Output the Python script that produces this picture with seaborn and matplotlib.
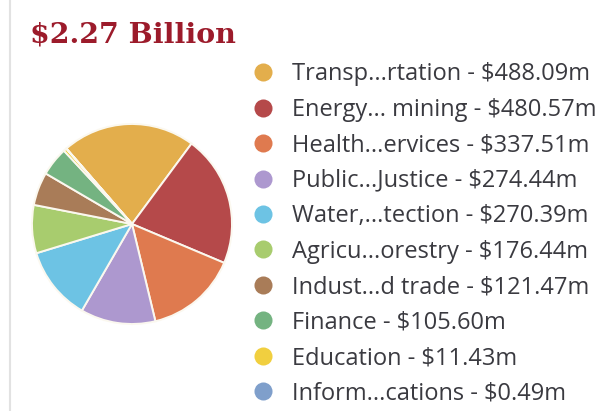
import matplotlib
matplotlib.use("Agg")
import matplotlib.pyplot as plt
from matplotlib.lines import Line2D
import seaborn as sns

# Spending by sector, millions of dollars
sectors = [
    "Transp...rtation", "Energy... mining", "Health...ervices", "Public...Justice",
    "Water,...tection", "Agricu...orestry", "Indust...d trade", "Finance",
    "Education", "Inform...cations",
]
amounts = [488.09, 480.57, 337.51, 274.44, 270.39, 176.44, 121.47, 105.60, 11.43, 0.49]
sector_colors = [
    "#E3AE4C", "#B5494A", "#DF7A4F", "#AD98CF", "#6DC3E4",
    "#A8CC6E", "#A97C58", "#74B381", "#F1CF3F", "#7F9FCB",
]
total_label = "$2.27 Billion"

sns.set_theme(style="white")
plt.rcParams["font.family"] = ["Open Sans", "DejaVu Sans"]
palette = sns.color_palette(sector_colors)

W, H = 611, 411
fig = plt.figure(figsize=(W / 100, H / 100), dpi=100)
fig.patch.set_facecolor("white")

# thin grey rule along the left edge
fig.add_artist(Line2D([10 / W, 10 / W], [0, 1], color="#E2E2E2", lw=1.5,
                      transform=fig.transFigure))

fig.text(30 / W, 1 - 42 / H, total_label, family=["DejaVu Serif"],
         fontsize=20.5, fontweight="bold", color="#9C1B2B", va="baseline", ha="left")

cx, cy, r = 132, 224, 100
ax = fig.add_axes([(cx - r) / W, 1 - (cy + r) / H, 2 * r / W, 2 * r / H])
ax.pie(amounts, colors=palette, startangle=131, counterclock=False, radius=1,
       wedgeprops=dict(edgecolor="#FBF8EF", linewidth=1.4))
ax.set_xlim(-1, 1)
ax.set_ylim(-1, 1)
ax.set_aspect("equal")
ax.axis("off")

handles = [
    Line2D([], [], marker="o", linestyle="none", markersize=13,
           markerfacecolor=c, markeredgecolor="none")
    for c in palette
]
labels = [f"{s} - ${v:.2f}m" for s, v in zip(sectors, amounts)]
fig.legend(handles, labels, loc="upper left", bbox_to_anchor=(242 / W, 1 - 53 / H),
           frameon=False, fontsize=17, labelspacing=0.485, handletextpad=0.7,
           handlelength=1.0, borderaxespad=0, labelcolor="#3A3A40")

fig.savefig("out.png", dpi=100)
